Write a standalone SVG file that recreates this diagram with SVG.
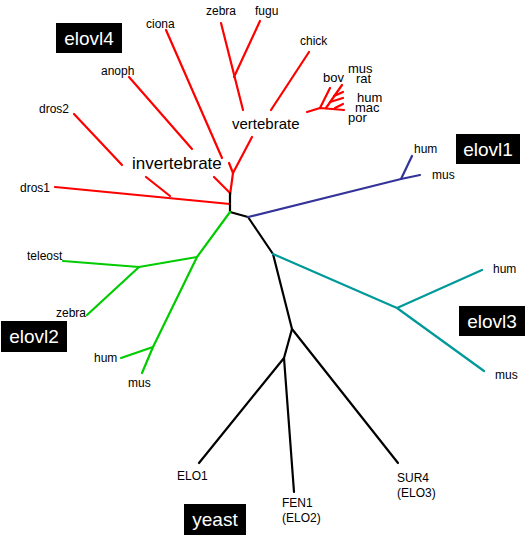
<svg xmlns="http://www.w3.org/2000/svg" width="526" height="542" viewBox="0 0 526 542">
<style>
text{font-family:"Liberation Sans",Arial,sans-serif;fill:#000}
.s{font-size:12px}
.m{font-size:13px}
.box{fill:#000}
.bt{font-size:19px;fill:#fff}
.e{fill:none;stroke-width:2.2;stroke-linecap:round;stroke-linejoin:round}
.r{stroke:#ff0000}.b{stroke:#333399}.g{stroke:#00cc00}.t{stroke:#009999}.k{stroke:#000}
</style>
<rect width="526" height="542" fill="#fff"/>
<g id="connectors">
<g class="e r">
<path d="M166,30 L222,158"/>
<path d="M129,77 L192,149"/>
<path d="M74,114 L122,165"/>
<path d="M146,177 L170,196"/>
<path d="M55,187 L230,204"/>
<path d="M214,177 L230,193"/>
<path d="M229,163 L233,173 L230,195"/>
<path d="M233,173 L252,137"/>
<path d="M221,23 L243,110"/>
<path d="M260,21 L234,77"/>
<path d="M309,52 L271,110"/>
<path d="M307,112 L320,108 L344,110"/>
<path d="M320,108 L330,88"/>
<path d="M326,108 L342,85"/>
<path d="M334,96 L343,92"/>
<path d="M330,102 L343,98"/>
<path d="M335,108 L343,104"/>
</g>
<path class="e k" d="M230,193 L230,212 L248,217 L273,254 L292,329 L284,358 L199,463"/>
<path class="e k" d="M284,358 L294,492"/>
<path class="e k" d="M292,329 L398,463"/>
<path class="e b" d="M248,217 L401,179 L412,156"/>
<path class="e b" d="M401,179 L420,175"/>
<path class="e g" d="M230,212 L197,257 L153,347 L142,373"/>
<path class="e g" d="M197,257 L139,267 L63,261"/>
<path class="e g" d="M139,267 L87,315"/>
<path class="e g" d="M153,347 L121,358"/>
<path class="e t" d="M273,254 L397,308 L482,270"/>
<path class="e t" d="M397,308 L484,371"/>
</g>
<g id="elovl4"><rect class="box" x="56" y="23" width="66" height="30"/><text class="bt" x="89" y="45" text-anchor="middle">elovl4</text></g>
<g id="elovl1"><rect class="box" x="456" y="134" width="64" height="30"/><text class="bt" x="488" y="156" text-anchor="middle">elovl1</text></g>
<g id="elovl2"><rect class="box" x="1" y="321" width="66" height="31"/><text class="bt" x="34" y="343" text-anchor="middle">elovl2</text></g>
<g id="elovl3"><rect class="box" x="459" y="306" width="66" height="30"/><text class="bt" x="492" y="328" text-anchor="middle">elovl3</text></g>
<g id="yeast"><rect class="box" x="184" y="504" width="62" height="31"/><text class="bt" x="215" y="526" text-anchor="middle">yeast</text></g>
<g id="ciona"><text class="s" x="146" y="28">ciona</text></g>
<g id="zebra4"><text class="s" x="206" y="15">zebra</text></g>
<g id="fugu"><text class="s" x="255" y="15">fugu</text></g>
<g id="anoph"><text class="s" x="101" y="75">anoph</text></g>
<g id="dros2"><text class="s" x="39" y="113">dros2</text></g>
<g id="dros1"><text class="s" x="20" y="192">dros1</text></g>
<g id="invertebrate"><text x="132" y="169" style="font-size:17px">invertebrate</text></g>
<g id="vertebrate"><text x="232" y="129" style="font-size:15px">vertebrate</text></g>
<g id="chick"><text class="s" x="300" y="45">chick</text></g>
<g id="bov"><text class="m" x="323" y="82">bov</text></g>
<g id="mus4"><text class="m" x="348" y="73">mus</text></g>
<g id="rat"><text class="m" x="356" y="83">rat</text></g>
<g id="hum4"><text class="m" x="357" y="102">hum</text></g>
<g id="mac"><text class="m" x="355" y="112">mac</text></g>
<g id="por"><text class="m" x="348" y="122">por</text></g>
<g id="hum1"><text class="s" x="414" y="153">hum</text></g>
<g id="mus1"><text class="s" x="432" y="179">mus</text></g>
<g id="teleost"><text class="s" x="27" y="260">teleost</text></g>
<g id="zebra2"><text class="s" x="56" y="317">zebra</text></g>
<g id="hum2"><text class="s" x="94" y="362">hum</text></g>
<g id="mus2"><text class="s" x="128" y="387">mus</text></g>
<g id="hum3"><text class="s" x="493" y="273">hum</text></g>
<g id="mus3"><text class="s" x="495" y="379">mus</text></g>
<g id="ELO1"><text class="s" x="177" y="480">ELO1</text></g>
<g id="FEN1"><text class="s" x="282" y="507">FEN1</text><text class="s" x="282" y="522">(ELO2)</text></g>
<g id="SUR4"><text class="s" x="397" y="482">SUR4</text><text class="s" x="397" y="497">(ELO3)</text></g>
</svg>
